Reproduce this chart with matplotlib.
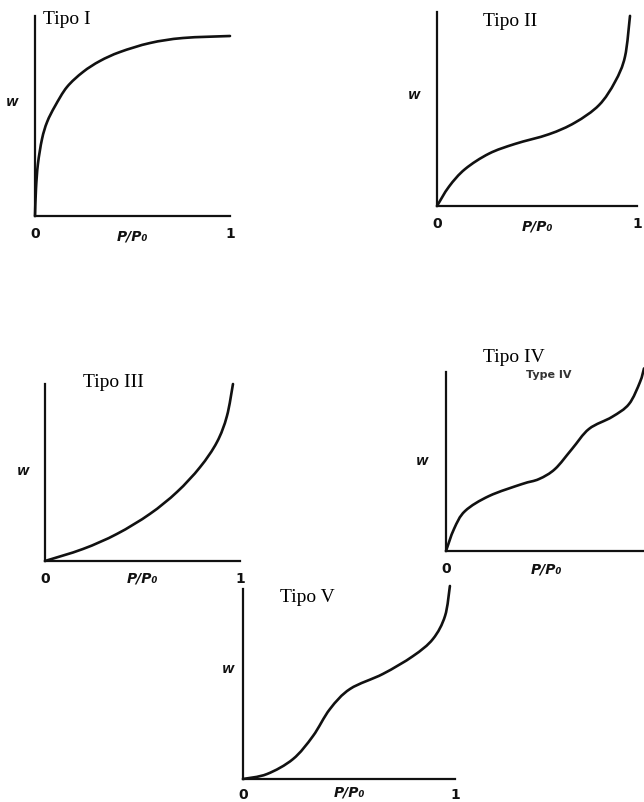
import matplotlib
matplotlib.use("Agg")
import matplotlib.pyplot as plt
from matplotlib.path import Path
from matplotlib.patches import PathPatch

W_PX, H_PX = 644, 803

# Isotherm curves (relative pressure P/P0, adsorbed amount W, normalised)
type1_x = [0, 0.005, 0.015, 0.036, 0.062, 0.103, 0.164, 0.246, 0.333, 0.436, 0.590, 0.759, 1.0]
type1_y = [0, 0.135, 0.26, 0.385, 0.47, 0.55, 0.645, 0.72, 0.775, 0.82, 0.865, 0.89, 0.90]

type2_x = [0, 0.06, 0.14, 0.26, 0.39, 0.56, 0.69, 0.81, 0.89, 0.94, 0.965]
type2_y = [0, 0.10, 0.19, 0.27, 0.32, 0.37, 0.43, 0.52, 0.64, 0.77, 0.98]

type3_x = [0, 0.195, 0.369, 0.538, 0.677, 0.795, 0.882, 0.933, 0.964]
type3_y = [0, 0.068, 0.153, 0.266, 0.39, 0.53, 0.672, 0.819, 1.0]

type4_x = [0, 0.04, 0.095, 0.215, 0.38, 0.465, 0.545, 0.63, 0.715, 0.83, 0.915, 0.97, 0.99]
type4_y = [0, 0.123, 0.223, 0.307, 0.374, 0.402, 0.458, 0.57, 0.682, 0.749, 0.821, 0.944, 1.02]

type5_x = [0, 0.113, 0.236, 0.33, 0.41, 0.505, 0.66, 0.802, 0.896, 0.953, 0.976]
type5_y = [0, 0.026, 0.105, 0.226, 0.368, 0.474, 0.553, 0.647, 0.737, 0.858, 1.016]

titles = ["Tipo I", "Tipo II", "Tipo III", "Tipo IV", "Tipo V"]
tick_labels = ["0", "1"]

fig = plt.figure(figsize=(W_PX / 100, H_PX / 100), dpi=100)
fig.patch.set_facecolor("white")


def px_axes(x0, y0, w, h):
    return fig.add_axes([x0 / W_PX, 1 - y0 / H_PX, w / W_PX, h / H_PX])


def smooth_path(xs, ys):
    """Catmull-Rom through the read points, drawn as cubic Bezier segments."""
    pts = list(zip(xs, ys))
    verts = [pts[0]]
    codes = [Path.MOVETO]
    n = len(pts)
    for i in range(n - 1):
        p0 = pts[i - 1] if i > 0 else pts[i]
        p1 = pts[i]
        p2 = pts[i + 1]
        p3 = pts[i + 2] if i + 2 < n else pts[i + 1]
        c1 = (p1[0] + (p2[0] - p0[0]) / 6, p1[1] + (p2[1] - p0[1]) / 6)
        c2 = (p2[0] - (p3[0] - p1[0]) / 6, p2[1] - (p3[1] - p1[1]) / 6)
        verts += [c1, c2, p2]
        codes += [Path.CURVE4] * 3
    return Path(verts, codes)


panels = [
    # x0, y0 (origin px), width, height, title pos (px), data, W y-frac, W offset, show "1", P/P0 offset
    (35, 217, 195, 200, (67, 19), type1_x, type1_y, 0.57, 23, True, -0.095),
    (437, 207, 200, 194, (510, 22), type2_x, type2_y, 0.57, 23, True, -0.10),
    (45, 562, 195, 177, (113, 383), type3_x, type3_y, 0.51, 22, True, -0.095),
    (446, 552, 200, 179, (514, 358), type4_x, type4_y, 0.50, 24, False, -0.095),
    (243, 780, 212, 190, (307, 598), type5_x, type5_y, 0.58, 15, True, -0.065),
]

for i, (x0, y0, w, h, tpos, xs, ys, wy, woff, show1, poff) in enumerate(panels):
    ax = px_axes(x0, y0, w, h)
    ax.set_facecolor("none")
    patch = PathPatch(smooth_path(xs, ys), facecolor="none", edgecolor="#111111",
                      lw=1.9, capstyle="round", joinstyle="round", clip_on=False)
    ax.add_patch(patch)
    ax.set_xlim(0, 1)
    ax.set_ylim(0, 1)
    for s in ["top", "right"]:
        ax.spines[s].set_visible(False)
    for s in ["left", "bottom"]:
        ax.spines[s].set_linewidth(1.6)
        ax.spines[s].set_color("#111111")
    ax.set_yticks([])
    if show1:
        ax.set_xticks([0, 1])
        ax.set_xticklabels(tick_labels, fontsize=10, fontweight="bold", color="#111111")
    else:
        ax.set_xticks([0])
        ax.set_xticklabels(tick_labels[:1], fontsize=10, fontweight="bold", color="#111111")
    ax.tick_params(axis="x", length=0, pad=6 if i == 4 else 7)
    ax.text(0.5, poff, "P/P₀", transform=ax.transAxes, ha="center", va="center",
            fontsize=10, fontweight="bold", fontstyle="italic", color="#111111")
    ax.text(-woff / w, wy, "W", transform=ax.transAxes, ha="center", va="center",
            fontsize=8, fontweight="bold", fontstyle="italic", color="#111111")
    fig.text(tpos[0] / W_PX, 1 - tpos[1] / H_PX, titles[i], ha="center", va="center",
             fontsize=14, family="Liberation Serif", color="black")

# scanned leftover label in the Type IV panel
fig.text(549 / W_PX, 1 - 375 / H_PX, "Type IV", ha="center", va="center",
         fontsize=8, fontweight="bold", color="#333333")

fig.savefig("out.png", dpi=100, facecolor="white")
